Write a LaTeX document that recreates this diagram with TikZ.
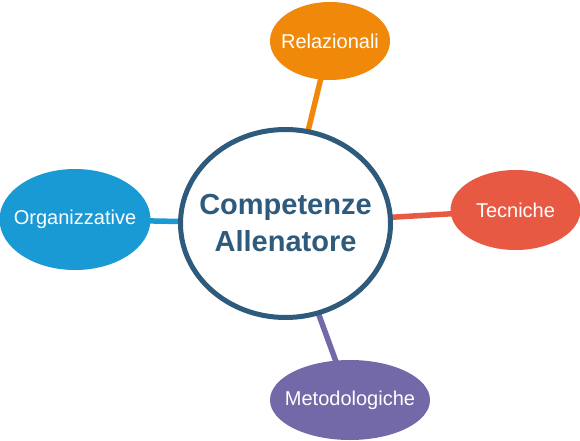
\documentclass[tikz,border=0pt]{standalone}
\usepackage{fontspec}
\setmainfont{Liberation Sans}
\usetikzlibrary{shapes.geometric,backgrounds}
\definecolor{chub}{HTML}{2E5A7C}
\definecolor{crel}{HTML}{F0890A}
\definecolor{ctec}{HTML}{E85944}
\definecolor{corg}{HTML}{1A9AD5}
\definecolor{cmet}{HTML}{7469A8}
\newcommand{\zw}[1]{\makebox[0pt]{#1}}
\begin{document}
\begin{tikzpicture}[x=1pt, y=-1pt,
		hub/.style={ellipse, draw=chub, line width=5pt, fill=white, text=chub, align=center,
			minimum width=210pt, minimum height=188pt, inner sep=0pt,
			font=\fontsize{29}{37}\selectfont\bfseries},
		leaf/.style={ellipse, fill=#1, text=white, inner sep=0pt, font=\fontsize{20}{24}\selectfont},
		link/.style={line width=5.5pt, #1}]
	
	\useasboundingbox (0,0) rectangle (580,441);
	
	\node[hub] (hub) at (285.5,223.5) {\zw{Competenze}\\\zw{Allenatore}};
	\node[leaf=crel, minimum width=120pt, minimum height=78pt] (rel) at (330,41) {\zw{Relazionali}};
	\node[leaf=ctec, minimum width=130pt, minimum height=80pt] (tec) at (515.5,210) {\zw{Tecniche}};
	\node[leaf=corg, minimum width=151pt, minimum height=101pt] (org) at (75,219.5) {\zw{Organizzative}};
	\node[leaf=cmet, minimum width=160pt, minimum height=80pt] (met) at (350,400) {\zw{Metodologiche}};
	
	% connectors behind the ellipses
	\begin{scope}[on background layer]
		\draw[link=crel] (hub.center) -- (rel.center);
		\draw[link=ctec] (hub.center) -- (tec.center);
		\draw[link=corg] (hub.center) -- (org.center);
		\draw[link=cmet] (hub.center) -- (met.center);
	\end{scope}
	
\end{tikzpicture}
\end{document}
